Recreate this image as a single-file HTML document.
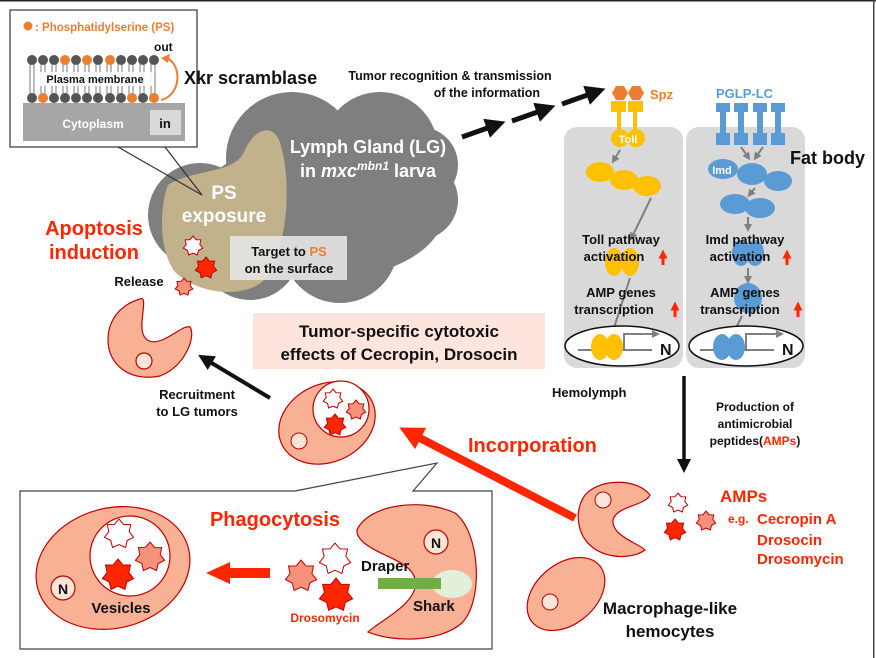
<!DOCTYPE html>
<html><head><meta charset="utf-8"><style>
html,body{margin:0;padding:0;background:#fff}
svg{display:block}
text{font-family:"Liberation Sans",Arial,sans-serif;font-weight:bold}
</style></head><body>
<svg id="s" width="876" height="658" viewBox="0 0 876 658" xmlns="http://www.w3.org/2000/svg">
<defs>
<marker id="ab" markerWidth="4" markerHeight="4" refX="2" refY="2" orient="auto" markerUnits="strokeWidth"><path d="M0,0 L4,2 L0,4Z" fill="#111"/></marker>
<marker id="ag" markerWidth="4" markerHeight="4" refX="2" refY="2" orient="auto" markerUnits="strokeWidth"><path d="M0,0 L4,2 L0,4Z" fill="#7f7f7f"/></marker>
<marker id="ar" markerWidth="3" markerHeight="3" refX="1.5" refY="1.5" orient="auto" markerUnits="strokeWidth"><path d="M0,0 L3,1.5 L0,3Z" fill="#ff2600"/></marker>
</defs>
<rect x="0" y="0" width="876" height="1.5" fill="#222"/>
<rect x="873" y="0" width="1.5" height="658" fill="#444"/>

<!-- cloud -->
<g fill="#7f7f7f">
<circle cx="200" cy="215" r="52"/><circle cx="292" cy="158" r="66"/><circle cx="380" cy="150" r="58"/>
<circle cx="418" cy="200" r="40"/><circle cx="420" cy="165" r="38"/><circle cx="340" cy="245" r="58"/><circle cx="250" cy="250" r="50"/>
<ellipse cx="320" cy="210" rx="125" ry="70"/>
</g>
<path d="M168,185 C195,168 235,175 245,150 C255,128 272,124 279,140 C292,175 290,250 262,282 C238,300 195,292 175,272 C158,250 160,205 168,185Z" fill="#c2b28c"/>
<text x="224" y="199" fill="#fff" font-size="19" text-anchor="middle">PS</text>
<text x="224" y="222" fill="#fff" font-size="19" text-anchor="middle">exposure</text>
<text x="368" y="153" fill="#fff" font-size="18" text-anchor="middle">Lymph Gland (LG)</text>
<text x="368" y="177" fill="#fff" font-size="18" text-anchor="middle">in <tspan font-style="italic">mxc</tspan><tspan font-style="italic" font-size="12" dy="-7">mbn1</tspan><tspan dy="7"> larva</tspan></text>
<rect x="230" y="236" width="117" height="44" fill="#e4e4e4" opacity="0.9"/>
<text x="289" y="256" font-size="13" text-anchor="middle" fill="#111">Target to <tspan fill="#ed7d31">PS</tspan></text>
<text x="289" y="273" font-size="13" text-anchor="middle" fill="#111">on the surface</text>
<g id="st1"></g>

<!-- inset -->
<rect x="10" y="10" width="187" height="137" fill="#fff" stroke="#333" stroke-width="1.2"/>
<line x1="118" y1="147" x2="202" y2="195" stroke="#333" stroke-width="1.2"/>
<line x1="165" y1="147" x2="202" y2="195" stroke="#333" stroke-width="1.2"/>
<circle cx="28" cy="26" r="4.5" fill="#ed7d31"/>
<text x="35" y="31" font-size="11.5" fill="#ed7d31">: Phosphatidylserine (PS)</text>
<text x="154" y="51" font-size="12" fill="#111">out</text>
<g stroke="#999" stroke-width="1.3">
<path d="M30,63v32M34,63v32M41,63v32M45,63v32M52,63v32M56,63v32M63,63v32M67,63v32M74,63v32M78,63v32M85,63v32M89,63v32M96,63v32M100,63v32M107,63v32M111,63v32M118,63v32M122,63v32M129,63v32M133,63v32M140,63v32M144,63v32M151,63v32M155,63v32"/>
</g>
<g fill="#555">
<circle cx="32" cy="60" r="5"/><circle cx="43" cy="60" r="5"/><circle cx="54" cy="60" r="5"/><circle cx="76" cy="60" r="5"/><circle cx="98" cy="60" r="5"/><circle cx="121" cy="60" r="5"/><circle cx="132" cy="60" r="5"/><circle cx="143" cy="60" r="5"/><circle cx="154" cy="60" r="5"/>
<circle cx="32" cy="98" r="5"/><circle cx="54" cy="98" r="5"/><circle cx="65" cy="98" r="5"/><circle cx="76" cy="98" r="5"/><circle cx="87" cy="98" r="5"/><circle cx="98" cy="98" r="5"/><circle cx="110" cy="98" r="5"/><circle cx="121" cy="98" r="5"/><circle cx="143" cy="98" r="5"/>
</g>
<g fill="#ed7d31">
<circle cx="65" cy="60" r="5"/><circle cx="87" cy="60" r="5"/><circle cx="110" cy="60" r="5"/>
<circle cx="43" cy="98" r="5"/><circle cx="132" cy="98" r="5"/><circle cx="154" cy="98" r="5"/>
</g>
<rect x="40" y="72" width="112" height="14" fill="#fff" opacity="0.85"/>
<text x="95" y="83" font-size="11" text-anchor="middle" fill="#111">Plasma membrane</text>
<path d="M161,100 C182,95 182,63 166,58" fill="none" stroke="#ed7d31" stroke-width="2"/>
<path d="M161,58 L170,54 L168,63Z" fill="#ed7d31"/>
<rect x="23" y="103" width="162" height="38" fill="#a6a6a6"/>
<text x="93" y="128" font-size="12" fill="#fff" text-anchor="middle">Cytoplasm</text>
<rect x="150" y="110" width="31" height="25" fill="#d9d9d9"/>
<text x="165" y="128" font-size="13" text-anchor="middle" fill="#111">in</text>
<text x="184" y="84" font-size="18" fill="#111">Xkr scramblase</text>

<text x="94" y="235" font-size="20" fill="#ff2600" text-anchor="middle">Apoptosis</text>
<text x="94" y="259" font-size="20" fill="#ff2600" text-anchor="middle">induction</text>
<text x="139" y="286" font-size="13" fill="#111" text-anchor="middle">Release</text>

<!-- tumor recognition -->
<text x="450" y="80" font-size="12.5" fill="#111" text-anchor="middle">Tumor recognition &amp; transmission</text>
<text x="540" y="97" font-size="12.5" fill="#111" text-anchor="end">of the information</text>
<g stroke="#111" stroke-width="5" marker-end="url(#ab)">
<line x1="462" y1="137" x2="496" y2="125"/><line x1="512" y1="121" x2="546" y2="109"/><line x1="562" y1="104" x2="596" y2="92"/>
</g>

<!-- fat body -->
<rect x="564" y="127" width="119" height="241" rx="13" fill="#d9d9d9"/>
<rect x="686" y="127" width="119" height="241" rx="13" fill="#d9d9d9"/>
<text x="790" y="164" font-size="18" fill="#111">Fat body</text>
<polygon points="612,93 616,86 624,86 628,93 624,100 616,100" fill="#ed7d31"/>
<polygon points="628,93 632,86 640,86 644,93 640,100 632,100" fill="#ed7d31"/>
<text x="650" y="99" font-size="13" fill="#ed7d31">Spz</text>
<g fill="#ffc000">
<path d="M611,101h15v11h-5v22h-4v-22h-6z"/><path d="M628,101h15v11h-6v22h-4v-22h-5z"/>
<circle cx="620" cy="138" r="9"/><circle cx="636" cy="138" r="9"/>
<ellipse cx="600" cy="172" rx="14" ry="10"/><ellipse cx="624" cy="180" rx="14" ry="10"/><ellipse cx="647" cy="186" rx="14" ry="10"/>
<ellipse cx="614" cy="262" rx="9" ry="14"/><ellipse cx="630" cy="262" rx="9" ry="14"/>
</g>
<text x="628" y="143" font-size="11" fill="#fff" text-anchor="middle">Toll</text>
<text x="716" y="98" font-size="13" fill="#5b9bd5">PGLP-LC</text>
<g fill="#5b9bd5">
<path d="M716,103h14v9h-4v21h4v12h-14v-12h4v-21h-4z"/><path d="M734,103h14v9h-4v21h4v12h-14v-12h4v-21h-4z"/>
<path d="M753,103h14v9h-4v21h4v12h-14v-12h4v-21h-4z"/><path d="M771,103h14v9h-4v21h4v12h-14v-12h4v-21h-4z"/>
<ellipse cx="723" cy="169" rx="15" ry="10"/><ellipse cx="752" cy="174" rx="15" ry="11"/><ellipse cx="778" cy="181" rx="14" ry="10"/>
<ellipse cx="735" cy="204" rx="15" ry="10"/><ellipse cx="760" cy="208" rx="15" ry="10"/>
<ellipse cx="741" cy="253" rx="9" ry="13"/><ellipse cx="755" cy="253" rx="9" ry="13"/>
<ellipse cx="748" cy="298" rx="14" ry="15"/>
</g>
<text x="722" y="174" font-size="11" fill="#fff" text-anchor="middle">Imd</text>
<g stroke="#7f7f7f" stroke-width="2" marker-end="url(#ag)">
<line x1="620" y1="150" x2="614" y2="160"/><line x1="651" y1="198" x2="632" y2="237"/><line x1="630" y1="278" x2="612" y2="334"/>
<line x1="741" y1="147" x2="748" y2="157"/><line x1="763" y1="147" x2="756" y2="157"/><line x1="755" y1="188" x2="750" y2="194"/>
<line x1="748" y1="217" x2="748" y2="228"/><line x1="748" y1="268" x2="748" y2="280"/><line x1="742" y1="316" x2="733" y2="334"/>
</g>
<g font-size="13" fill="#111" text-anchor="middle">
<text x="621" y="244">Toll pathway</text><text x="614" y="261">activation</text>
<text x="621" y="297">AMP genes</text><text x="614" y="314">transcription</text>
<text x="745" y="244">Imd pathway</text><text x="740" y="261">activation</text>
<text x="745" y="297">AMP genes</text><text x="740" y="314">transcription</text>
</g>
<g stroke="#ff2600" stroke-width="3" marker-end="url(#ar)">
<line x1="663" y1="265" x2="663" y2="254"/><line x1="675" y1="317" x2="675" y2="306"/>
<line x1="787" y1="265" x2="787" y2="254"/><line x1="798" y1="317" x2="798" y2="306"/>
</g>
<ellipse cx="622" cy="346" rx="57" ry="20" fill="#fff" stroke="#111" stroke-width="1.5"/>
<ellipse cx="746" cy="346" rx="57" ry="20" fill="#fff" stroke="#111" stroke-width="1.5"/>
<g stroke="#7f7f7f" stroke-width="2" fill="none">
<path d="M578,350h16M622,350h30M624,350v-16h30"/><path d="M700,350h14M744,350h30M746,350v-16h30"/>
</g>
<g fill="#ffc000"><ellipse cx="600" cy="347" rx="9" ry="13"/><ellipse cx="614" cy="347" rx="9" ry="13"/></g>
<g fill="#5b9bd5"><ellipse cx="722" cy="347" rx="9" ry="13"/><ellipse cx="736" cy="347" rx="9" ry="13"/></g>
<path d="M652,330l8,4l-8,4z M776,330l8,4l-8,4z" fill="#7f7f7f"/>
<text x="660" y="355" font-size="16" fill="#111">N</text>
<text x="782" y="355" font-size="16" fill="#111">N</text>

<text x="552" y="397" font-size="13" fill="#111">Hemolymph</text>
<line x1="684" y1="376" x2="684" y2="466" stroke="#111" stroke-width="3.5" marker-end="url(#ab)"/>
<g font-size="12" fill="#111" text-anchor="middle">
<text x="755" y="411">Production of</text><text x="755" y="428">antimicrobial</text>
<text x="755" y="445">peptides(<tspan fill="#ff2600">AMPs</tspan>)</text>
</g>

<!-- title box -->
<rect x="253" y="313" width="292" height="56" fill="#fde4dc"/>
<text x="399" y="337" font-size="17" fill="#111" text-anchor="middle">Tumor-specific cytotoxic</text>
<text x="399" y="360" font-size="17" fill="#111" text-anchor="middle">effects of Cecropin, Drosocin</text>

<!-- left pacman -->
<path d="M140,299 C146,296 143,308 142,322 C141,336 146,346 162,340 C176,334 184,325 190,327 C196,336 186,366 160,376 C130,382 108,365 108,340 C108,320 120,305 140,299Z" fill="#f8b195" stroke="#c00000" stroke-width="1.2"/>
<circle cx="144" cy="361" r="8" fill="#fbe5d6" stroke="#c00000" stroke-width="1.2"/>
<line x1="270" y1="398" x2="205" y2="359" stroke="#111" stroke-width="4" marker-end="url(#ab)"/>
<text x="197" y="399" font-size="13" fill="#111" text-anchor="middle">Recruitment</text>
<text x="197" y="416" font-size="13" fill="#111" text-anchor="middle">to LG tumors</text>

<!-- middle cell -->
<ellipse cx="327" cy="423" rx="50" ry="39" transform="rotate(-25 327 423)" fill="#f8b195" stroke="#c00000" stroke-width="1.2"/>
<circle cx="341" cy="409" r="28" fill="#fff" stroke="#c00000" stroke-width="1.2"/>
<circle cx="299" cy="441" r="8" fill="#fbe5d6" stroke="#c00000" stroke-width="1"/>

<!-- incorporation -->
<line x1="575" y1="518" x2="410" y2="433" stroke="#ff2600" stroke-width="8" marker-end="url(#ar)"/>
<text x="468" y="452" font-size="20" fill="#ff2600">Incorporation</text>

<!-- right hemocytes -->
<path d="M585,495 C600,478 637,478 650,495 C645,506 616,506 613,520 C611,536 640,544 645,550 C630,561 592,560 581,532 C576,518 578,505 585,495Z" fill="#f8b195" stroke="#c00000" stroke-width="1.2"/>
<circle cx="603" cy="500" r="8" fill="#fbe5d6" stroke="#c00000" stroke-width="1"/>
<ellipse cx="566" cy="594" rx="44" ry="30" transform="rotate(-40 566 594)" fill="#f8b195" stroke="#c00000" stroke-width="1.2"/>
<circle cx="550" cy="602" r="8" fill="#fbe5d6" stroke="#c00000" stroke-width="1"/>
<text x="720" y="502" font-size="17" fill="#ff2600">AMPs</text>
<text x="728" y="523" font-size="12" fill="#ff2600">e.g.</text>
<text x="757" y="524" font-size="15" fill="#ff2600">Cecropin A</text>
<text x="757" y="545" font-size="15" fill="#ff2600">Drosocin</text>
<text x="757" y="564" font-size="15" fill="#ff2600">Drosomycin</text>
<text x="670" y="614" font-size="17" fill="#111" text-anchor="middle">Macrophage-like</text>
<text x="670" y="637" font-size="17" fill="#111" text-anchor="middle">hemocytes</text>

<!-- bottom box -->
<path d="M20,491 L295,491 L437,463 L413,491 L492,491 L492,649 L20,649Z" fill="#fff" stroke="#444" stroke-width="1.2"/>
<ellipse cx="113" cy="568" rx="78" ry="60" transform="rotate(-15 113 568)" fill="#f8b195" stroke="#c00000" stroke-width="1.2"/>
<circle cx="130" cy="556" r="40" fill="#fff" stroke="#c00000" stroke-width="1.2"/>
<circle cx="63" cy="588" r="12" fill="#fbe5d6" stroke="#c00000" stroke-width="1.2"/>
<text x="63" y="594" font-size="14" fill="#111" text-anchor="middle">N</text>
<text x="121" y="613" font-size="15" fill="#111" text-anchor="middle">Vesicles</text>
<text x="275" y="526" font-size="20" fill="#ff2600" text-anchor="middle">Phagocytosis</text>
<rect x="230" y="568" width="40" height="10" fill="#ff2600"/>
<path d="M206,573 L230,562 L230,584Z" fill="#ff2600"/>
<text x="325" y="622" font-size="12" fill="#ff2600" text-anchor="middle">Drosomycin</text>
<path d="M357,530 C368,505 420,497 455,513 C480,532 484,600 462,623 C440,642 395,643 368,632 C380,621 410,607 415,588 C419,570 400,562 385,555 C370,548 356,540 357,530Z" fill="#f8b195" stroke="#c00000" stroke-width="1.2"/>
<ellipse cx="452" cy="584" rx="20" ry="14" fill="#e2efda"/>
<rect x="378" y="578" width="63" height="11" fill="#70ad47"/>
<circle cx="436" cy="542" r="12" fill="#fbe5d6" stroke="#c00000" stroke-width="1.2"/>
<text x="436" y="548" font-size="14" fill="#111" text-anchor="middle">N</text>
<text x="361" y="571" font-size="15" fill="#111">Draper</text>
<text x="413" y="611" font-size="15" fill="#111">Shark</text>
<g id="stars"></g>
</svg>
<script>
(function(){
var W="#fff",P="#f7927a",R="#ff2600";
var list=[[193,246,10,W],[206,268,11,R],[184,287,9,P],
[333,399,10,W],[356,410,10,P],[335,425,11,R],
[678,503,10,W],[706,521,10,P],[675,530,11,R],
[119,534,15,W],[150,557,15,P],[118,575,16,R],
[335,559,16,W],[301,576,16,P],[336,595,17,R]];
var g=document.getElementById("stars");
list.forEach(function(s){
 var pts=[];
 for(var k=0;k<14;k++){var a=(k*360/14-90)*Math.PI/180;var r=(k%2?0.7:1)*s[2];pts.push((s[0]+r*Math.cos(a)).toFixed(1)+","+(s[1]+r*Math.sin(a)).toFixed(1));}
 var p=document.createElementNS("http://www.w3.org/2000/svg","polygon");
 p.setAttribute("points",pts.join(" "));p.setAttribute("fill",s[3]);p.setAttribute("stroke","#c00000");p.setAttribute("stroke-width","1");
 g.appendChild(p);
});
})();
</script>
</body></html>
